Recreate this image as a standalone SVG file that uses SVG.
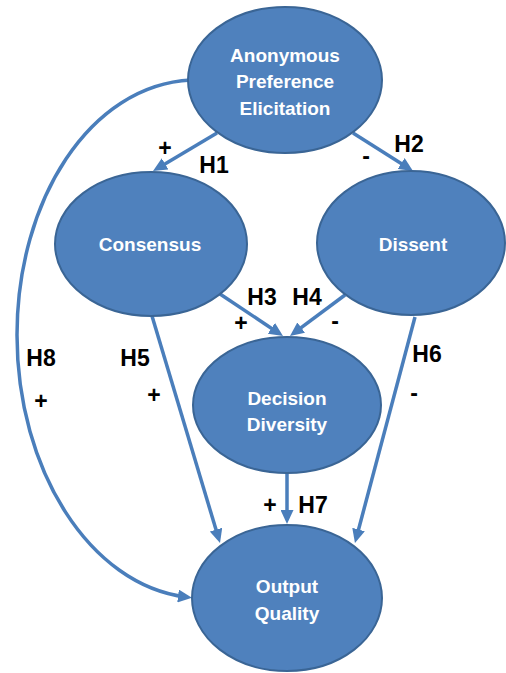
<svg xmlns="http://www.w3.org/2000/svg" width="506" height="673" viewBox="0 0 506 673">
<style>
.node ellipse{fill:#4f81bd;stroke:#3a6595;stroke-width:2}
.node text{fill:#ffffff;font-family:"Liberation Sans",Arial,sans-serif;font-weight:bold;font-size:19px;text-anchor:middle}
.conn{fill:none;stroke:#4a7ebb;stroke-width:3.5;marker-end:url(#ah)}
.lbl{fill:#000000;font-family:"Liberation Sans",Arial,sans-serif;font-weight:bold;font-size:23px;text-anchor:middle}
</style>
<defs>
<marker id="ah" markerUnits="userSpaceOnUse" markerWidth="14" markerHeight="13" viewBox="0 0 14 13" refX="8" refY="6.5" orient="auto">
<path d="M0,0 L14,6.5 L0,13 z" fill="#4a7ebb"/>
</marker>
</defs>
<g id="connectors">
<line class="conn" x1="217" y1="133" x2="158.2" y2="167.9"/>
<line class="conn" x1="353" y1="133" x2="407.9" y2="167.8"/>
<line class="conn" x1="220" y1="294" x2="278" y2="332.7"/>
<line class="conn" x1="345" y1="295" x2="294.8" y2="332.4"/>
<line class="conn" x1="152" y1="316" x2="218.3" y2="537.3"/>
<line class="conn" x1="415" y1="317" x2="356.5" y2="537.2"/>
<line class="conn" x1="287" y1="473" x2="287" y2="518"/>
<path class="conn" d="M191,80 C90,85 17,200 17,335 C17,470 90,585 186,597"/>
</g>
<g id="labels">
<text class="lbl" x="165" y="156">+</text>
<text class="lbl" x="214" y="173">H1</text>
<text class="lbl" x="366" y="164">-</text>
<text class="lbl" x="409" y="152">H2</text>
<text class="lbl" x="262" y="305">H3</text>
<text class="lbl" x="307" y="305">H4</text>
<text class="lbl" x="241" y="331">+</text>
<text class="lbl" x="335" y="329">-</text>
<text class="lbl" x="135" y="366">H5</text>
<text class="lbl" x="154" y="403">+</text>
<text class="lbl" x="41" y="366">H8</text>
<text class="lbl" x="41" y="409">+</text>
<text class="lbl" x="427" y="362">H6</text>
<text class="lbl" x="414" y="401">-</text>
<text class="lbl" x="313" y="513">H7</text>
<text class="lbl" x="270" y="513">+</text>
</g>
<g id="anonymous" class="node">
<ellipse cx="285" cy="80" rx="97" ry="73"/>
<text x="285" y="62">Anonymous</text>
<text x="285" y="88">Preference</text>
<text x="285" y="115">Elicitation</text>
</g>
<g id="consensus" class="node">
<ellipse cx="151" cy="244" rx="96" ry="72"/>
<text x="150" y="251">Consensus</text>
</g>
<g id="dissent" class="node">
<ellipse cx="411" cy="243" rx="94" ry="72"/>
<text x="413" y="251">Dissent</text>
</g>
<g id="diversity" class="node">
<ellipse cx="287" cy="405" rx="94" ry="68"/>
<text x="287" y="405">Decision</text>
<text x="287" y="431">Diversity</text>
</g>
<g id="quality" class="node">
<ellipse cx="287" cy="598" rx="95" ry="73"/>
<text x="287" y="593">Output</text>
<text x="287" y="620">Quality</text>
</g>
</svg>
